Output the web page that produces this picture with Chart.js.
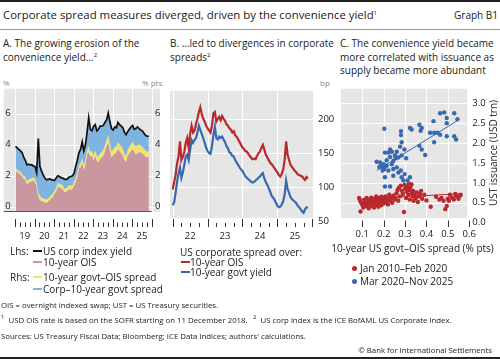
<!DOCTYPE html>
<html>
<head>
<meta charset="utf-8">
<title>Corporate spread measures diverged</title>
<script src="https://cdn.jsdelivr.net/npm/chart.js@4.4.1/dist/chart.umd.min.js"></script>
<style>
  body { margin:0; background:#fff; }
  #page { position:relative; width:500px; height:359px; overflow:hidden; font-family:"Open Sans", sans-serif; color:#1a1a1a; }
  .txt { position:absolute; white-space:nowrap; line-height:12px; font-size:10px; }
  .sup { font-size:6px; position:relative; top:-4px; }
  .rule { position:absolute; left:0; width:500px; }
  .sw { position:absolute; height:2px; width:9px; }
  .dot { position:absolute; width:5px; height:5px; border-radius:50%; }
  .unit { position:absolute; font-size:8px; color:#888; line-height:10px; }
  .foot { position:absolute; white-space:nowrap; font-size:7.8px; line-height:10px; }
  canvas { position:absolute; }
</style>
</head>
<body>
<div id="page">
  <div class="rule" style="top:0;height:2px;background:#222"></div>
  <div class="txt" style="left:3px;top:8px;font-size:11.4px;line-height:14px">Corporate spread measures diverged, driven by the convenience yield<span class="sup">1</span></div>
  <div class="txt" style="right:2px;top:9px">Graph B1</div>
  <div class="rule" style="top:29px;height:1px;background:#999"></div>

  <div class="txt" style="left:3px;top:37px">A. The growing erosion of the</div>
  <div class="txt" style="left:3px;top:51px">convenience yield...<span class="sup">2</span></div>
  <div class="txt" style="left:170px;top:37px">B. ...led to divergences in corporate</div>
  <div class="txt" style="left:170px;top:51px">spreads<span class="sup">2</span></div>
  <div class="txt" style="left:340px;top:37px">C. The convenience yield became</div>
  <div class="txt" style="left:340px;top:51px">more correlated with issuance as</div>
  <div class="txt" style="left:340px;top:64px">supply became more abundant</div>

  <div class="unit" style="left:3px;top:78px">%</div>
  <div class="unit" style="left:142px;top:78px">% pts</div>
  <div class="unit" style="left:320px;top:78px">bp</div>

  <canvas id="chartA" width="168" height="165" style="left:0;top:80px"></canvas>
  <canvas id="chartB" width="170" height="165" style="left:165px;top:80px"></canvas>
  <canvas id="chartC" width="170" height="165" style="left:330px;top:80px"></canvas>

  <div class="txt" style="left:428px;top:147px;width:130px;text-align:center;transform:rotate(-90deg)">UST issuance (USD trn)</div>
  <div class="txt" style="left:330px;top:242px;width:165px;text-align:center">10-year US govt–OIS spread (% pts)</div>

  <!-- panel A legend -->
  <div class="txt" style="left:10px;top:245px">Lhs:</div>
  <div class="sw" style="left:33px;top:250px;background:#111"></div>
  <div class="txt" style="left:43px;top:245px">US corp index yield</div>
  <div class="sw" style="left:33px;top:261px;background:#c8979f"></div>
  <div class="txt" style="left:43px;top:256px">10-year OIS</div>
  <div class="txt" style="left:10px;top:271px">Rhs:</div>
  <div class="sw" style="left:33px;top:276px;background:#f2e36f"></div>
  <div class="txt" style="left:43px;top:271px">10-year govt–OIS spread</div>
  <div class="sw" style="left:33px;top:288px;background:#80b4e0"></div>
  <div class="txt" style="left:43px;top:283px">Corp–10-year govt spread</div>

  <!-- panel B legend -->
  <div class="txt" style="left:180px;top:246px">US corporate spread over:</div>
  <div class="sw" style="left:181px;top:261px;background:#b8282d"></div>
  <div class="txt" style="left:190px;top:256px">10-year OIS</div>
  <div class="sw" style="left:181px;top:271px;background:#3868b0"></div>
  <div class="txt" style="left:190px;top:266px">10-year govt yield</div>

  <!-- panel C legend -->
  <div class="dot" style="left:352px;top:266px;background:#b8282d"></div>
  <div class="txt" style="left:360px;top:262px">Jan 2010–Feb 2020</div>
  <div class="dot" style="left:352px;top:279px;background:#3868b0"></div>
  <div class="txt" style="left:360px;top:275px">Mar 2020–Nov 2025</div>

  <div class="foot" style="left:1px;top:300px">OIS = overnight indexed swap; UST = US Treasury securities.</div>
  <div class="foot" style="left:1px;top:315px"><span class="sup">1</span>&nbsp; USD OIS rate is based on the SOFR starting on 11 December 2018.</div>
  <div class="foot" style="left:253px;top:315px"><span class="sup">2</span>&nbsp; US corp index is the ICE BofAML US Corporate Index.</div>
  <div class="foot" style="left:1px;top:331px">Sources: US Treasury Fiscal Data; Bloomberg; ICE Data Indices; authors' calculations.</div>
  <div class="foot" style="right:8px;top:345px">© Bank for International Settlements</div>
  <div class="rule" style="top:357px;height:2px;background:#222"></div>
</div>

<script>
// ---- Panel A: monthly, Jan 2019 – Nov 2025 (%)
const corpYield = [
  3.9, 3.8, 3.7, 3.6, 3.5, 3.2, 3.0, 2.7, 2.75, 2.7, 2.72, 2.62,
  2.6, 2.2, 4.4, 2.6, 2.3, 2.05, 1.85, 1.75, 1.75, 1.8, 1.75, 1.72,
  1.7, 1.85, 2.0, 1.95, 1.88, 1.85, 1.78, 1.75, 1.8, 1.92, 1.95, 2.0,
  2.15, 2.6, 3.0, 3.5, 3.7, 4.2, 3.6, 4.0, 4.8, 5.75, 5.0, 4.9,
  5.2, 5.3, 4.9, 5.0, 5.2, 5.2, 5.25, 5.45, 5.6, 6.05, 5.5, 5.05,
  4.95, 5.15, 5.1, 5.45, 5.3, 5.2, 5.1, 4.8, 4.65, 4.85, 5.0, 5.15,
  5.25, 5.0, 5.05, 5.15, 5.05, 4.95, 4.9, 4.75, 4.6, 4.55, 4.55
];
const ois10y = [
  2.3, 2.25, 2.15, 2.1, 1.95, 1.8, 1.75, 1.45, 1.55, 1.6, 1.65, 1.7,
  1.6, 1.3, 0.65, 0.45, 0.35, 0.35, 0.28, 0.25, 0.35, 0.45, 0.55, 0.65,
  0.85, 1.0, 1.3, 1.25, 1.2, 1.15, 0.95, 0.95, 1.05, 1.15, 1.1, 1.15,
  1.35, 1.6, 1.95, 2.5, 2.55, 2.85, 2.4, 2.75, 3.35, 3.55, 3.25, 3.3,
  3.0, 3.3, 2.95, 2.9, 3.1, 3.2, 3.3, 3.6, 3.9, 4.2, 3.7, 3.2,
  3.3, 3.45, 3.5, 3.75, 3.6, 3.45, 3.3, 3.0, 2.9, 3.3, 3.45, 3.6,
  3.75, 3.55, 3.4, 3.45, 3.55, 3.5, 3.45, 3.35, 3.25, 3.2, 3.25
];
const govtOisSpread = [
  0.15, 0.15, 0.16, 0.16, 0.17, 0.18, 0.18, 0.2, 0.2, 0.2, 0.2, 0.2,
  0.2, 0.22, 0.28, 0.25, 0.23, 0.22, 0.22, 0.2, 0.2, 0.2, 0.2, 0.22,
  0.2, 0.22, 0.25, 0.24, 0.23, 0.22, 0.22, 0.21, 0.22, 0.24, 0.25, 0.24,
  0.24, 0.25, 0.22, 0.2, 0.25, 0.28, 0.3, 0.28, 0.3, 0.35, 0.3, 0.3,
  0.3, 0.32, 0.35, 0.33, 0.35, 0.35, 0.38, 0.4, 0.42, 0.45, 0.4, 0.38,
  0.38, 0.4, 0.4, 0.42, 0.42, 0.45, 0.45, 0.42, 0.4, 0.38, 0.4, 0.45,
  0.45, 0.45, 0.5, 0.5, 0.48, 0.45, 0.42, 0.4, 0.38, 0.35, 0.35
];
const monthsA = [];
for (let y = 2019; y <= 2025; y++) {
  for (let m = 0; m < 12; m++) {
    if (y === 2025 && m > 10) break;
    monthsA.push(y + (m + 0.3) / 12);
  }
}
const yearsA = [2019, 2020, 2021, 2022, 2023, 2024, 2025, 2026];
const xLabelsA = ['19', '20', '21', '22', '23', '24', '25'];
const yTicksA = [0, 2, 4, 6];

// ---- Panel B: half-monthly, Jan 2022 – Nov 2025 (bp)
const spreadOverOis = [
  97, 108, 118, 135, 145, 167, 140, 145, 152, 165, 172, 158,
  178, 190, 180, 183, 192, 200, 210, 217, 207, 200, 196, 190,
  186, 183, 180, 190, 208, 210, 196, 200, 203, 198, 204, 200,
  197, 192, 190, 186, 184, 180, 182, 176, 174, 170, 166, 162,
  158, 156, 153, 152, 149, 146, 143, 141, 142, 141, 146, 150,
  152, 158, 162, 155, 148, 144, 140, 136, 134, 131, 128, 125,
  122, 118, 116, 120, 126, 140, 167, 148, 140, 133, 130, 127,
  124, 122, 119, 118, 117, 116, 113, 111, 115, 113
];
const spreadOverGovt = [
  74, 78, 92, 108, 120, 129, 114, 122, 133, 145, 148, 140,
  155, 169, 165, 169, 172, 180, 190, 184, 178, 172, 165, 158,
  153, 150, 149, 160, 176, 188, 172, 170, 174, 172, 174, 170,
  166, 160, 157, 151, 150, 146, 145, 140, 136, 133, 129, 126,
  124, 120, 116, 114, 112, 110, 108, 107, 108, 110, 112, 114,
  116, 119, 121, 113, 108, 104, 99, 94, 88, 85, 82, 78,
  73, 71, 72, 75, 80, 90, 110, 98, 92, 86, 83, 81,
  79, 77, 73, 71, 68, 65, 63, 68, 71, 71
];
const datesB = spreadOverOis.map((_, i) => 2022 + i / 24);
const yearsB = [2022, 2023, 2024, 2025, 2026];
const xLabelsB = ['22', '23', '24', '25'];
const yTicksB = [50, 100, 150, 200];

// ---- Panel C: govt–OIS spread (% pts) vs UST issuance (USD trn)
const preCovid = [
  [0.085,0.62],[0.09,0.55],[0.095,0.5],[0.1,0.45],[0.092,0.28],[0.105,0.38],[0.11,0.58],[0.112,0.5],
  [0.118,0.42],[0.12,0.62],[0.125,0.52],[0.128,0.45],[0.13,0.36],[0.135,0.58],[0.14,0.5],[0.142,0.63],
  [0.145,0.42],[0.15,0.55],[0.152,0.47],[0.155,0.38],[0.16,0.6],[0.162,0.52],[0.165,0.66],[0.168,0.45],
  [0.17,0.56],[0.175,0.4],[0.178,0.62],[0.18,0.5],[0.185,0.58],[0.188,0.44],[0.19,0.65],[0.195,0.54],
  [0.198,0.6],[0.2,0.48],[0.205,0.57],[0.208,0.66],[0.21,0.52],[0.215,0.62],[0.22,0.46],[0.222,0.58],
  [0.226,0.7],[0.23,0.55],[0.235,0.64],[0.24,0.5],[0.245,0.68],[0.25,0.58],[0.255,0.62],[0.26,0.74],
  [0.265,0.82],[0.268,0.55],[0.272,0.88],[0.275,0.66],[0.28,0.93],[0.285,0.8],[0.29,0.72],[0.295,0.27],
  [0.298,0.95],[0.3,0.85],[0.305,0.62],[0.308,0.78],[0.31,0.9],[0.315,0.7],[0.318,0.98],[0.32,0.82],
  [0.322,0.58],[0.325,0.88],[0.33,0.96],[0.332,0.74],[0.335,0.66],[0.338,0.8],[0.34,0.55],[0.345,0.7],
  [0.35,0.62],[0.355,0.76],[0.36,0.52],[0.365,0.66],[0.37,0.72],[0.375,0.8],[0.38,0.6],[0.39,0.7],
  [0.4,0.56],[0.42,0.4],[0.445,0.65],[0.46,0.58],[0.47,0.62],[0.48,0.55],[0.488,0.34],[0.495,0.42],
  [0.5,0.6],[0.505,0.55],[0.51,0.7],[0.52,0.63],[0.528,0.58],[0.535,0.72],[0.54,0.66],[0.55,0.6],
  [0.558,0.68],[0.56,0.7]
];
const postCovid = [
  [0.203,2.36],[0.281,2.3],[0.281,2.2],[0.323,2.38],[0.331,2.34],[0.367,2.46],[0.378,2.38],[0.373,2.31],
  [0.433,2.55],[0.464,2.75],[0.483,2.77],[0.495,2.63],[0.53,2.75],[0.545,2.6],[0.495,2.5],[0.417,2.26],
  [0.436,2.26],[0.452,2.26],[0.464,2.21],[0.436,2.02],[0.495,2.17],[0.53,2.17],[0.539,2.09],[0.367,1.93],
  [0.378,1.84],[0.394,1.7],[0.284,2.02],[0.277,1.91],[0.297,1.84],[0.261,1.78],[0.23,1.84],[0.206,1.76],
  [0.222,1.76],[0.238,1.78],[0.253,1.69],[0.269,1.64],[0.284,1.69],[0.305,1.62],[0.23,1.65],[0.214,1.57],
  [0.245,1.55],[0.256,1.62],[0.167,1.53],[0.183,1.51],[0.191,1.43],[0.198,1.39],[0.195,1.31],[0.203,1.35],
  [0.214,1.43],[0.222,1.31],[0.238,1.47],[0.245,1.35],[0.261,1.39],[0.28,1.31],[0.206,1.14],[0.245,1.18],
  [0.269,1.26],[0.284,1.14],[0.298,1.22],[0.311,1.06],[0.323,1.14],[0.292,1.06],[0.206,0.91],[0.23,0.91],
  [0.2,1.47],[0.18,1.4]
];
const preCovidFit = [[0.087, 0.59], [0.566, 0.73]];
const postCovidFit = [[0.167, 1.31], [0.547, 2.57]];
const xTicksC = [0.1, 0.2, 0.3, 0.4, 0.5, 0.6];
const yTicksC = [0, 0.5, 1, 1.5, 2, 2.5, 3];

Chart.defaults.font.family = '"Open Sans", sans-serif';
Chart.defaults.font.size = 9.5;
Chart.defaults.color = '#1a1a1a';
Chart.defaults.animation = false;

const RED = '#b8282d', BLUE = '#3868b0';

// gray plot background, white grid, tick marks below the plot
const bisFrame = {
  id: 'bisFrame',
  beforeDraw(chart, args, o) {
    const ctx = chart.ctx, a = chart.chartArea;
    const xs = chart.scales.x, ys = chart.scales.y;
    const gl = a.left + o.grayL, gr = a.right + o.grayR;
    const gb = o.grayBottom == null ? a.bottom : ys.getPixelForValue(o.grayBottom);
    ctx.save();
    ctx.fillStyle = '#e6e6e6';
    ctx.fillRect(gl, a.top, gr - gl, gb - a.top);
    ctx.strokeStyle = '#fff';
    ctx.lineWidth = 1;
    ctx.beginPath();
    o.vLines.forEach(v => {
      const p = Math.round(xs.getPixelForValue(v)) + 0.5;
      ctx.moveTo(p, a.top); ctx.lineTo(p, gb);
    });
    o.hLines.forEach(v => {
      const p = Math.round(ys.getPixelForValue(v)) + 0.5;
      ctx.moveTo(gl, p); ctx.lineTo(gr, p);
    });
    ctx.stroke();
    ctx.restore();
  },
  afterDraw(chart, args, o) {
    const ctx = chart.ctx, a = chart.chartArea, xs = chart.scales.x;
    ctx.save();
    ctx.strokeStyle = '#333';
    ctx.lineWidth = 1;
    ctx.beginPath();
    o.major.forEach(v => {
      const p = Math.round(xs.getPixelForValue(v)) + 0.5;
      ctx.moveTo(p, o.tickTop); ctx.lineTo(p, o.tickBottom);
    });
    (o.minor || []).forEach(v => {
      const p = Math.round(xs.getPixelForValue(v)) + 0.5;
      ctx.moveTo(p, o.minorTop); ctx.lineTo(p, o.tickBottom);
    });
    ctx.stroke();
    if (o.axisLine) {
      ctx.strokeStyle = '#555';
      ctx.beginPath();
      const yb = Math.round(a.bottom) - 0.5;
      ctx.moveTo(a.left + o.grayL, yb);
      ctx.lineTo(xs.getPixelForValue(o.axisLine), yb);
      ctx.stroke();
    }
    ctx.restore();
  }
};

function quarters(years) {
  const out = [];
  years.slice(0, -1).forEach(y => [0.25, 0.5, 0.75].forEach(q => out.push(y + q)));
  return out;
}
function fixedTicks(values) {
  return s => { s.ticks = values.map(v => ({ value: v })); };
}
const noGrid = { display: false, drawTicks: false };

// Panel A
const pts = arr => monthsA.map((t, i) => ({ x: t, y: arr[i] }));
new Chart(document.getElementById('chartA'), {
  type: 'line',
  data: {
    datasets: [
      { data: pts(corpYield), borderColor: '#111', borderWidth: 1.7, pointRadius: 0, fill: false },
      { data: pts(corpYield), borderWidth: 0, pointRadius: 0, fill: '+1', backgroundColor: '#80b4e0' },
      { data: pts(ois10y.map((v, i) => v + govtOisSpread[i])), borderWidth: 0, pointRadius: 0, fill: '+1', backgroundColor: '#f2e36f' },
      { data: pts(ois10y), borderWidth: 0, pointRadius: 0, fill: 'start', backgroundColor: '#c8979f' }
    ]
  },
  options: {
    responsive: false,
    layout: { padding: { left: 1, top: 8, right: 0, bottom: 0 } },
    plugins: {
      legend: { display: false }, tooltip: { enabled: false },
      bisFrame: {
        grayL: -10, grayR: 7, vLines: yearsA, hLines: yTicksA,
        major: yearsA, minor: quarters(yearsA), tickTop: 139, minorTop: 142.5, tickBottom: 147,
        axisLine: 2026
      }
    },
    scales: {
      x: {
        type: 'linear', min: 2018.935, max: 2026.07,
        afterFit: s => { s.height = 33; },
        afterBuildTicks: fixedTicks(xLabelsA.map((_, i) => yearsA[i] + 0.5)),
        ticks: { callback: (v, i) => xLabelsA[i], padding: 18.5, autoSkip: false, maxRotation: 0 },
        grid: noGrid, border: { display: false }
      },
      y: {
        position: 'left', min: -0.34, max: 7.62,
        afterFit: s => { s.width = 10; },
        afterBuildTicks: fixedTicks(yTicksA),
        ticks: { padding: 3 },
        grid: noGrid, border: { display: false }
      },
      y2: {
        position: 'right', min: -0.34, max: 7.62,
        afterFit: s => { s.width = 15; },
        afterBuildTicks: fixedTicks(yTicksA),
        ticks: { padding: 2 },
        grid: noGrid, border: { display: false }
      }
    }
  },
  plugins: [bisFrame]
});

// Panel B
const ptsB = arr => datesB.map((t, i) => ({ x: t, y: arr[i] }));
new Chart(document.getElementById('chartB'), {
  type: 'line',
  data: {
    datasets: [
      { data: ptsB(spreadOverOis), borderColor: RED, borderWidth: 2.2, pointRadius: 0 },
      { data: ptsB(spreadOverGovt), borderColor: BLUE, borderWidth: 2.2, pointRadius: 0 }
    ]
  },
  options: {
    responsive: false,
    layout: { padding: { left: 5, top: 8, right: 0, bottom: 0 } },
    plugins: {
      legend: { display: false }, tooltip: { enabled: false },
      bisFrame: {
        grayL: 0, grayR: 0, grayBottom: 55.3, vLines: yearsB.slice(0, -1), hLines: [100, 150, 200],
        major: yearsB, minor: quarters(yearsB), tickTop: 139, minorTop: 143, tickBottom: 147
      }
    },
    scales: {
      x: {
        type: 'linear', min: 2021.923, max: 2026.02,
        afterFit: s => { s.height = 23.3; },
        afterBuildTicks: fixedTicks(xLabelsB.map((_, i) => yearsB[i] + 0.5)),
        ticks: { callback: (v, i) => xLabelsB[i], padding: 9, autoSkip: false, maxRotation: 0 },
        grid: noGrid, border: { display: false }
      },
      y: {
        position: 'right', min: 50, max: 241,
        afterFit: s => { s.width = 22; },
        afterBuildTicks: fixedTicks(yTicksB),
        ticks: { padding: 5 },
        grid: noGrid, border: { display: false }
      }
    }
  },
  plugins: [bisFrame]
});

// Panel C
const xy = arr => arr.map(p => ({ x: p[0], y: p[1] }));
new Chart(document.getElementById('chartC'), {
  type: 'scatter',
  data: {
    datasets: [
      { data: xy(postCovidFit), showLine: true, borderColor: BLUE, borderWidth: 1, pointRadius: 0 },
      { data: xy(preCovidFit), showLine: true, borderColor: RED, borderWidth: 1, pointRadius: 0 },
      { data: xy(postCovid), backgroundColor: BLUE, borderWidth: 0, pointRadius: 2.2 },
      { data: xy(preCovid), backgroundColor: RED, borderWidth: 0, pointRadius: 2.2 }
    ]
  },
  options: {
    responsive: false,
    layout: { padding: { left: 10.9, top: 7, right: 0, bottom: 0 } },
    plugins: {
      legend: { display: false }, tooltip: { enabled: false },
      bisFrame: {
        grayL: 0, grayR: -2, grayBottom: 0.117, vLines: [0.1, 0.2, 0.3, 0.4, 0.5], hLines: yTicksC.slice(1),
        major: xTicksC, tickTop: 140.5, tickBottom: 147
      }
    },
    scales: {
      x: {
        type: 'linear', min: 0, max: 0.6,
        afterFit: s => { s.height = 22.3; },
        afterBuildTicks: fixedTicks(xTicksC),
        ticks: { callback: v => v.toFixed(1), padding: 6, autoSkip: false, maxRotation: 0 },
        grid: noGrid, border: { display: false }
      },
      y: {
        position: 'right', min: 0, max: 3.365,
        afterFit: s => { s.width = 30.8; },
        afterBuildTicks: fixedTicks(yTicksC),
        ticks: { callback: v => v.toFixed(1), padding: 3 },
        grid: noGrid, border: { display: false }
      }
    }
  },
  plugins: [bisFrame]
});
</script>
</body>
</html>
